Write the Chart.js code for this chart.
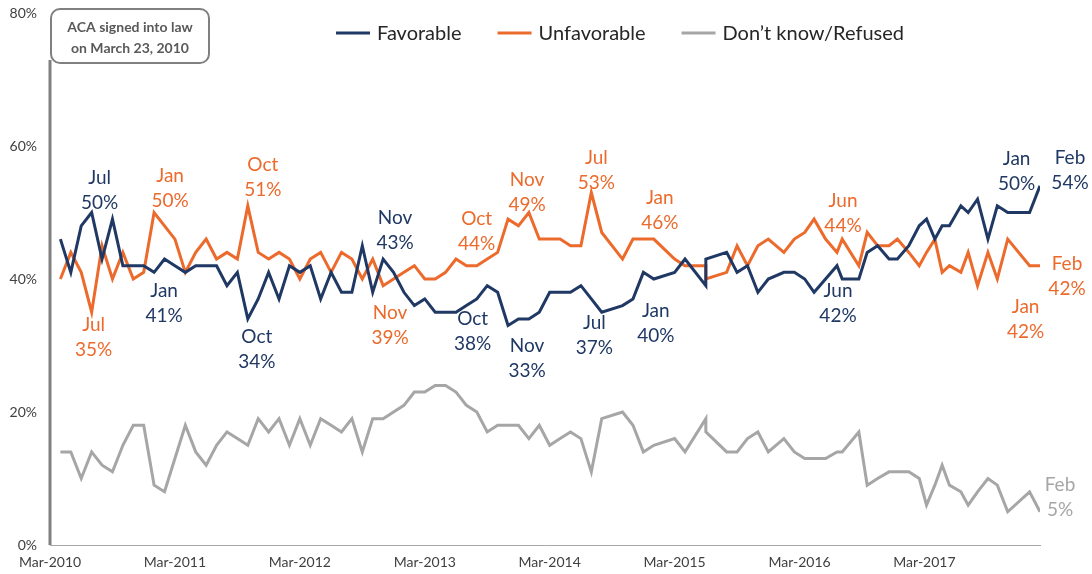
<!DOCTYPE html>
<html>
<head>
<meta charset="utf-8">
<script src="https://cdn.jsdelivr.net/npm/chart.js@4.4.1/dist/chart.umd.min.js"></script>
<style>
   body { margin: 0; background: #ffffff; }
   #chart { display: block; }
</style>
</head>
<body>
<canvas id="chart" width="1092" height="574"></canvas>
<script>
// survey dates, in months after Mar-2010
const months = [
   1, 2, 3, 4, 5, 6, 7, 8, 9, 10, 11, 12, 13, 14, 15, 16, 17, 18, 19, 20,
   21, 22, 23, 24, 25, 26, 27, 28, 29, 30, 31, 32, 33, 34, 35, 36, 37, 38, 39, 40,
   41, 42, 43, 44, 45, 46, 47, 48, 49, 50, 51, 52, 53, 55, 56, 57, 58, 60, 61, 63,
   63, 65, 66, 67, 68, 69, 70.5, 71.5, 72.5, 73.4, 74.5, 75.6, 76.1, 77.7, 78.5, 79.5,
   80.6, 81.4, 82.5, 83.5, 84.2, 85, 85.7, 86.4, 87.5, 88.2, 89.1, 90.1, 91, 92, 94.1, 95.1
];
const favorable = [
   46, 41, 48, 50, 43, 49, 42, 42, 42, 41, 43, 42, 41, 42, 42, 42, 39, 41, 34, 37,
   41, 37, 42, 41, 42, 37, 41, 38, 38, 45, 38, 43, 41, 38, 36, 37, 35, 35, 35, 36,
   37, 39, 38, 33, 34, 34, 35, 38, 38, 38, 39, 37, 35, 36, 37, 41, 40, 41, 43, 39,
   43, 44, 41, 42, 38, 40, 41, 41, 40, 38, 40, 42, 40, 40, 44, 45,
   43, 43, 45, 48, 49, 46, 48, 48, 51, 50, 52, 46, 51, 50, 50, 54
];
const unfavorable = [
   40, 44, 41, 35, 45, 40, 44, 40, 41, 50, 48, 46, 41, 44, 46, 43, 44, 43, 51, 44,
   43, 44, 43, 40, 43, 44, 41, 44, 43, 40, 43, 39, 40, 41, 42, 40, 40, 41, 43, 42,
   42, 43, 44, 49, 48, 50, 46, 46, 46, 45, 45, 53, 47, 43, 46, 46, 46, 43, 42, 42,
   40, 41, 45, 42, 45, 46, 44, 46, 47, 49, 46, 44, 46, 42, 47, 45,
   45, 46, 44, 42, 44, 46, 41, 42, 41, 44, 39, 44, 40, 46, 42, 42
];
const dontKnow = [
   14, 14, 10, 14, 12, 11, 15, 18, 18, 9, 8, 13, 18, 14, 12, 15, 17, 16, 15, 19,
   17, 19, 15, 19, 15, 19, 18, 17, 19, 14, 19, 19, 20, 21, 23, 23, 24, 24, 23, 21,
   20, 17, 18, 18, 18, 16, 18, 15, 16, 17, 16, 11, 19, 20, 18, 14, 15, 16, 14, 19,
   17, 14, 14, 16, 17, 14, 16, 14, 13, 13, 13, 14, 14, 17, 9, 10,
   11, 11, 11, 10, 6, 9, 12, 9, 8, 6, 8, 10, 9, 5, 8, 5
];

const tickMonths = [0, 12, 24, 36, 48, 60, 72, 84];
const tickLabels = ['Mar-2010', 'Mar-2011', 'Mar-2012', 'Mar-2013', 'Mar-2014', 'Mar-2015', 'Mar-2016', 'Mar-2017'];
const yTicks = [0, 20, 40, 60, 80];

const seriesNames = ['Favorable', 'Unfavorable', 'Don\u2019t know/Refused'];
const seriesColors = ['#203864', '#ec6a2c', '#a6a6a6'];

const acaMonth = 0;
const acaText = ['ACA signed into law', 'on March 23, 2010'];

// callouts: series index, survey month, month name, offset of the first line
const callouts = [
   { s: 0, m: 4, name: 'Jul', dx: 8, dy: -35 },
   { s: 0, m: 10, name: 'Jan', dx: 10, dy: 19 },
   { s: 0, m: 19, name: 'Oct', dx: 9, dy: 18 },
   { s: 0, m: 32, name: 'Nov', dx: 12, dy: -41 },
   { s: 0, m: 43, name: 'Oct', dx: -25, dy: 27 },
   { s: 0, m: 44, name: 'Nov', dx: 19, dy: 20 },
   { s: 0, m: 52, name: 'Jul', dx: 3, dy: 24 },
   { s: 0, m: 58, name: 'Jan', dx: 2, dy: 32 },
   { s: 0, m: 75.6, name: 'Jun', dx: 1, dy: 25 },
   { s: 0, m: 94.1, name: 'Jan', dx: -13, dy: -54 },
   { s: 0, m: 95.1, name: 'Feb', dx: 30, dy: -28 },
   { s: 1, m: 4, name: 'Jul', dx: 2, dy: 13 },
   { s: 1, m: 10, name: 'Jan', dx: 16, dy: -37 },
   { s: 1, m: 19, name: 'Oct', dx: 15, dy: -41 },
   { s: 1, m: 32, name: 'Nov', dx: 7, dy: 27 },
   { s: 1, m: 43, name: 'Oct', dx: -21, dy: -34 },
   { s: 1, m: 44, name: 'Nov', dx: 19, dy: -39 },
   { s: 1, m: 52, name: 'Jul', dx: 5, dy: -35 },
   { s: 1, m: 58, name: 'Jan', dx: 6, dy: -41 },
   { s: 1, m: 75.6, name: 'Jun', dx: 6, dy: -52 },
   { s: 1, m: 94.1, name: 'Jan', dx: -4, dy: 41 },
   { s: 1, m: 95.1, name: 'Feb', dx: 27, dy: -2 },
   { s: 2, m: 95.1, name: 'Feb', dx: 20, dy: -27 }
];

const FONT = 'Lato, "Open Sans", sans-serif';
Chart.defaults.font.family = FONT;

function roundedBox(ctx, x, y, w, h, r) {
   ctx.beginPath();
   ctx.moveTo(x + r, y);
   ctx.arcTo(x + w, y, x + w, y + h, r);
   ctx.arcTo(x + w, y + h, x, y + h, r);
   ctx.arcTo(x, y + h, x, y, r);
   ctx.arcTo(x, y, x + w, y, r);
   ctx.closePath();
}

const acaPlugin = {
   id: 'acaMarker',
   afterDraw(chart) {
      const ctx = chart.ctx;
      const x = chart.scales.x.getPixelForValue(acaMonth);
      const area = chart.chartArea;
      ctx.save();
      ctx.strokeStyle = '#808080';
      ctx.lineWidth = 3;
      ctx.beginPath();
      ctx.moveTo(x, 60);
      ctx.lineTo(x, area.bottom);
      ctx.stroke();
      // the box
      ctx.lineWidth = 2;
      roundedBox(ctx, x + 1, 9, 158, 54, 9);
      ctx.fillStyle = '#ffffff';
      ctx.fill();
      ctx.stroke();
      ctx.fillStyle = '#595959';
      ctx.font = 'bold 14px ' + FONT;
      ctx.textAlign = 'center';
      ctx.textBaseline = 'middle';
      ctx.fillText(acaText[0], x + 80, 27);
      ctx.fillText(acaText[1], x + 80, 48);
      ctx.restore();
   }
};

const calloutPlugin = {
   id: 'callouts',
   afterDatasetsDraw(chart) {
      const ctx = chart.ctx;
      ctx.save();
      ctx.font = '19px ' + FONT;
      ctx.textAlign = 'center';
      ctx.textBaseline = 'middle';
      callouts.forEach(c => {
         const ds = chart.data.datasets[c.s];
         const i = months.indexOf(c.m);
         const v = ds.data[i].y;
         const px = chart.scales.x.getPixelForValue(c.m);
         const py = chart.scales.y.getPixelForValue(v);
         ctx.fillStyle = ds.borderColor;
         ctx.fillText(c.name, px + c.dx, py + c.dy);
         ctx.fillText(v + '%', px + c.dx, py + c.dy + 25);
      });
      ctx.restore();
   }
};

const legendPlugin = {
   id: 'topLegend',
   afterDraw(chart) {
      const ctx = chart.ctx;
      const lineLen = 34, gap = 7, spacing = 36, y = 33;
      ctx.save();
      ctx.font = '20px ' + FONT;
      ctx.textBaseline = 'middle';
      const widths = chart.data.datasets.map(ds => ctx.measureText(ds.label).width);
      let total = 0;
      widths.forEach(w => total += lineLen + gap + w);
      total += spacing * (widths.length - 1);
      let x = 620 - total / 2;
      chart.data.datasets.forEach((ds, i) => {
         ctx.strokeStyle = ds.borderColor;
         ctx.lineWidth = 3;
         ctx.beginPath();
         ctx.moveTo(x, y);
         ctx.lineTo(x + lineLen, y);
         ctx.stroke();
         ctx.fillStyle = '#262626';
         ctx.fillText(ds.label, x + lineLen + gap, y + 1);
         x += lineLen + gap + widths[i] + spacing;
      });
      ctx.restore();
   }
};

function series(values) {
   return months.map((m, i) => ({ x: m, y: values[i] }));
}

const allValues = [favorable, unfavorable, dontKnow];

new Chart(document.getElementById('chart').getContext('2d'), {
   type: 'line',
   data: {
      datasets: allValues.map((vals, i) => ({
         label: seriesNames[i],
         data: series(vals),
         borderColor: seriesColors[i],
         backgroundColor: seriesColors[i],
         borderWidth: 3,
         pointRadius: 0,
         tension: 0,
         fill: false
      }))
   },
   options: {
      responsive: false,
      animation: false,
      layout: { padding: { top: 13, right: 52, left: 0, bottom: 0 } },
      plugins: {
         legend: { display: false },
         tooltip: { enabled: false }
      },
      scales: {
         x: {
            type: 'linear',
            min: 0,
            max: 95.1,
            grid: { display: false, drawTicks: false },
            border: { display: true, color: '#a6a6a6', width: 1 },
            afterBuildTicks: axis => { axis.ticks = tickMonths.map(v => ({ value: v })); },
            afterFit: axis => { axis.height = 29; },
            ticks: {
               autoSkip: false,
               maxRotation: 0,
               padding: 9,
               color: '#404040',
               font: { size: 14 },
               callback: v => tickLabels[tickMonths.indexOf(v)]
            }
         },
         y: {
            min: 0,
            max: 80,
            grid: { display: false, drawTicks: false },
            border: { display: false },
            afterBuildTicks: axis => { axis.ticks = yTicks.map(v => ({ value: v })); },
            // fixed width, and no extra room above the 80% label
            afterFit: axis => {
               axis.width = 50;
               axis.paddingTop = 0;
               axis.paddingBottom = 0;
            },
            ticks: {
               padding: 13,
               color: '#404040',
               font: { size: 14 },
               callback: v => v + '%'
            }
         }
      }
   },
   plugins: [acaPlugin, calloutPlugin, legendPlugin]
});
</script>
</body>
</html>
